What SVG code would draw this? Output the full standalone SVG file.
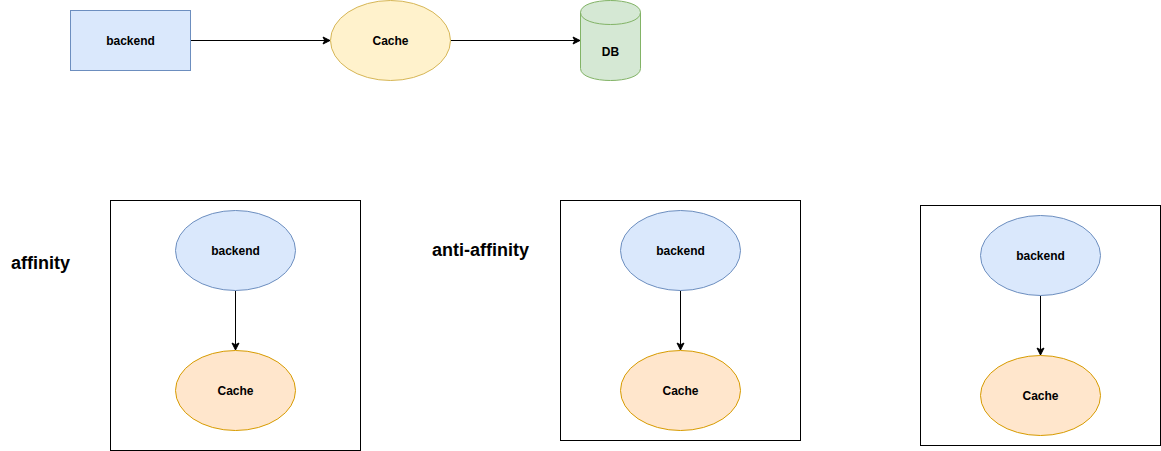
<svg xmlns="http://www.w3.org/2000/svg" width="1161" height="451" viewBox="0 0 1161 451">
<style>
.lbl{font-family:"Liberation Sans",Arial,Helvetica,sans-serif;font-size:12px;font-weight:bold;fill:#000;text-anchor:middle;dominant-baseline:central}
.title{font-family:"Liberation Sans",Arial,Helvetica,sans-serif;font-size:18px;font-weight:bold;fill:#000}
.blue{fill:#dae8fc;stroke:#6c8ebf;stroke-width:1}
.yellow{fill:#fff2cc;stroke:#d6b656;stroke-width:1}
.green{fill:#d5e8d4;stroke:#82b366;stroke-width:1}
.orange{fill:#ffe6cc;stroke:#d79b00;stroke-width:1}
.box{fill:none;stroke:#000;stroke-width:1}
.edge{fill:none;stroke:#000;stroke-width:1}
</style>
<defs>
<marker id="arr" markerUnits="userSpaceOnUse" markerWidth="9" markerHeight="9" refX="8" refY="4.5" orient="auto" overflow="visible">
<path d="M1,1 L8,4.5 L1,8 L2.75,4.5 Z" fill="#000" stroke="#000" stroke-width="1"/>
</marker>
</defs>
<rect width="1161" height="451" fill="#fff"/>
<g id="containers">
<rect id="box-affinity" class="box" x="110.5" y="200.5" width="250" height="250"/>
<rect id="box-anti1" class="box" x="560.5" y="200.5" width="240" height="240"/>
<rect id="box-anti2" class="box" x="920.5" y="205.5" width="240" height="240"/>
</g>
<g id="connectors">
<path class="edge" d="M190.5,40.5 L330,40.5" marker-end="url(#arr)"/>
<path class="edge" d="M450.5,40.5 L580,40.5" marker-end="url(#arr)"/>
<path class="edge" d="M235.5,290.5 L235.5,350" marker-end="url(#arr)"/>
<path class="edge" d="M680.5,290.5 L680.5,350" marker-end="url(#arr)"/>
<path class="edge" d="M1040.5,295.5 L1040.5,355" marker-end="url(#arr)"/>
</g>
<g id="top-backend">
<rect class="blue" x="70.5" y="10.5" width="120" height="60"/>
<text class="lbl" x="130.5" y="40.5">backend</text>
</g>
<g id="top-cache">
<ellipse class="yellow" cx="390.5" cy="40.5" rx="60" ry="40"/>
<text class="lbl" x="390.5" y="40.5">Cache</text>
</g>
<g id="top-db">
<path class="green" d="M580.5,12.5 C580.5,-3.5 640.5,-3.5 640.5,12.5 L640.5,68.5 C640.5,84.5 580.5,84.5 580.5,68.5 Z"/>
<path fill="none" stroke="#82b366" d="M580.5,12.5 C580.5,28.5 640.5,28.5 640.5,12.5"/>
<text class="lbl" x="610.5" y="52">DB</text>
</g>
<g id="title-affinity">
<text class="title" x="11" y="269">affinity</text>
</g>
<g id="title-anti-affinity">
<text class="title" x="432" y="256">anti-affinity</text>
</g>
<g id="aff-backend">
<ellipse class="blue" cx="235.5" cy="250.5" rx="60" ry="40"/>
<text class="lbl" x="235.5" y="250.5">backend</text>
</g>
<g id="aff-cache">
<ellipse class="orange" cx="235.5" cy="390.5" rx="60" ry="40"/>
<text class="lbl" x="235.5" y="390.5">Cache</text>
</g>
<g id="anti1-backend">
<ellipse class="blue" cx="680.5" cy="250.5" rx="60" ry="40"/>
<text class="lbl" x="680.5" y="250.5">backend</text>
</g>
<g id="anti1-cache">
<ellipse class="orange" cx="680.5" cy="390.5" rx="60" ry="40"/>
<text class="lbl" x="680.5" y="390.5">Cache</text>
</g>
<g id="anti2-backend">
<ellipse class="blue" cx="1040.5" cy="255.5" rx="60" ry="40"/>
<text class="lbl" x="1040.5" y="255.5">backend</text>
</g>
<g id="anti2-cache">
<ellipse class="orange" cx="1040.5" cy="395.5" rx="60" ry="40"/>
<text class="lbl" x="1040.5" y="395.5">Cache</text>
</g>
</svg>
